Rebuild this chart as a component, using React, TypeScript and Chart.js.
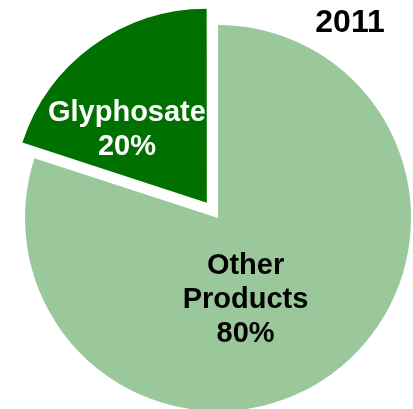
import React, { useEffect, useRef } from "react";
import { Chart, registerables } from "chart.js";

Chart.register(...registerables);

const categories = ["Other Products", "Glyphosate"];
const labelLines = [["Other", "Products"], ["Glyphosate"]];
const values = [80, 20];
const yearLabel = "2011";
const colors = ["#9AC89A", "#007000"];
const textColors = ["#000000", "#FFFFFF"];

const FONT = "bold 29px 'Liberation Sans', Arial, sans-serif";

const labelPlugin = {
  id: "sliceLabels",
  afterDatasetsDraw(chart: any) {
    const { ctx } = chart;
    const meta = chart.getDatasetMeta(0);
    const total = values.reduce((a, b) => a + b, 0);
    // label placement: angle (deg, chart.js convention) and fraction of radius
    const place = [
      { ang: 71.5, frac: 0.45 },
      { ang: 224, frac: 0.656 },
    ];
    ctx.save();
    ctx.font = FONT;
    ctx.textAlign = "center";
    ctx.textBaseline = "middle";
    meta.data.forEach((arc: any, i: number) => {
      const p = place[i];
      const r = arc.outerRadius * p.frac;
      const a = (p.ang * Math.PI) / 180;
      const cx = arc.x + Math.cos(a) * r;
      const cy = arc.y + Math.sin(a) * r;
      const lines = [...labelLines[i], Math.round((values[i] / total) * 100) + "%"];
      const lh = 34;
      const startY = cy - ((lines.length - 1) * lh) / 2;
      ctx.fillStyle = textColors[i];
      lines.forEach((t, k) => ctx.fillText(t, cx, startY + k * lh));
    });
    ctx.font = "bold 32px 'Liberation Sans', Arial, sans-serif";
    ctx.fillStyle = "#000000";
    ctx.textBaseline = "alphabetic";
    ctx.fillText(yearLabel, 350, 32);
    ctx.restore();
  },
};

export default function App() {
  const ref = useRef<HTMLCanvasElement | null>(null);
  useEffect(() => {
    if (!ref.current) return;
    const chart = new Chart(ref.current, {
      type: "pie",
      data: {
        labels: categories,
        datasets: [
          {
            data: values,
            backgroundColor: colors,
            borderWidth: 0,
            offset: [0, 76],
            radius: 193,
          } as any,
        ],
      },
      options: {
        responsive: false,
        animation: false,
        layout: { padding: { left: 23, top: 27, right: 0, bottom: 0 } },
        plugins: {
          legend: { display: false },
          tooltip: { enabled: false },
          title: { display: false },
        },
        events: [],
      },
      plugins: [labelPlugin],
    });
    return () => chart.destroy();
  }, []);
  return (
    <div style={{ position: "fixed", left: 0, top: 0, width: 413, height: 409, overflow: "hidden", background: "#fff" }}>
      <canvas ref={ref} width={413} height={409} style={{ display: "block" }} />
    </div>
  );
}
